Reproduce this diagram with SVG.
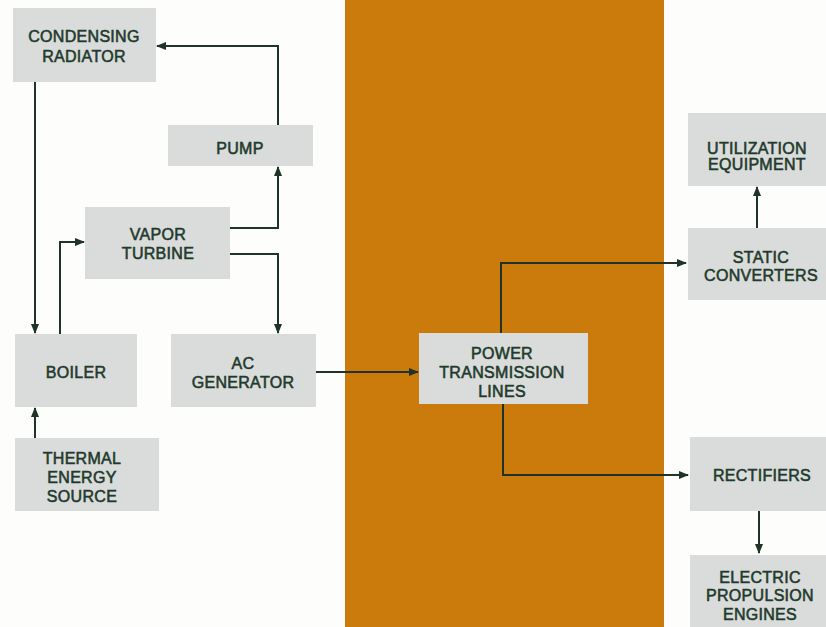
<svg xmlns="http://www.w3.org/2000/svg" width="826" height="627" viewBox="0 0 826 627">
<defs>
<marker id="ah" viewBox="0 0 10 10" refX="9" refY="5" markerWidth="5" markerHeight="5" orient="auto" markerUnits="strokeWidth">
<path d="M0,1 L10,5 L0,9 Z" fill="#1f3328"/>
</marker>
<style>
.box{fill:#d9dcda}
.t{font-family:"Liberation Sans",Arial,sans-serif;font-size:16px;fill:#1f3a2c;stroke:#1f3a2c;stroke-width:0.55;text-anchor:middle;letter-spacing:0.3px}
.c{fill:none;stroke:#1f3328;stroke-width:2;marker-end:url(#ah)}
</style>
</defs>
<rect width="826" height="627" fill="#fdfdfc"/>
<rect x="345" y="0" width="319" height="627" fill="#cb7b0c"/>
<g id="connectors">
<path class="c" d="M278,125 V46 H157"/>
<path class="c" d="M35,82 V333"/>
<path class="c" d="M60,334 V242 H84"/>
<path class="c" d="M230,228 H278 V167"/>
<path class="c" d="M230,254 H278 V333"/>
<path class="c" d="M35,438 V408"/>
<path class="c" d="M316,372 H418"/>
<path class="c" d="M501,333 V263 H686"/>
<path class="c" d="M503,404 V475 H688"/>
<path class="c" d="M757,228 V187"/>
<path class="c" d="M759,511 V553"/>
</g>
<g id="condensing-radiator"><rect class="box" x="13" y="8" width="143" height="74"/><text class="t" x="84" y="42">CONDENSING</text><text class="t" x="84" y="62">RADIATOR</text></g>
<g id="pump"><rect class="box" x="168" y="125" width="145" height="41"/><text class="t" x="240" y="154">PUMP</text></g>
<g id="vapor-turbine"><rect class="box" x="85" y="207" width="145" height="72"/><text class="t" x="158" y="240">VAPOR</text><text class="t" x="158" y="259">TURBINE</text></g>
<g id="boiler"><rect class="box" x="15" y="334" width="122" height="73"/><text class="t" x="76" y="378">BOILER</text></g>
<g id="ac-generator"><rect class="box" x="171" y="334" width="145" height="73"/><text class="t" x="243" y="369">AC</text><text class="t" x="243" y="388">GENERATOR</text></g>
<g id="thermal-energy-source"><rect class="box" x="15" y="438" width="144" height="73"/><text class="t" x="82" y="464">THERMAL</text><text class="t" x="82" y="483">ENERGY</text><text class="t" x="82" y="502">SOURCE</text></g>
<g id="power-transmission-lines"><rect class="box" x="419" y="333" width="169" height="71" fill="#dfe3e1"/><text class="t" x="502" y="359">POWER</text><text class="t" x="502" y="378">TRANSMISSION</text><text class="t" x="502" y="397">LINES</text></g>
<g id="utilization-equipment"><rect class="box" x="688" y="113" width="138" height="73"/><text class="t" x="757" y="154">UTILIZATION</text><text class="t" x="757" y="170">EQUIPMENT</text></g>
<g id="static-converters"><rect class="box" x="688" y="228" width="138" height="72"/><text class="t" x="761" y="263">STATIC</text><text class="t" x="761" y="281">CONVERTERS</text></g>
<g id="rectifiers"><rect class="box" x="690" y="437" width="136" height="74"/><text class="t" x="762" y="481">RECTIFIERS</text></g>
<g id="electric-propulsion-engines"><rect class="box" x="690" y="555" width="136" height="72"/><text class="t" x="760" y="583">ELECTRIC</text><text class="t" x="760" y="601">PROPULSION</text><text class="t" x="760" y="620">ENGINES</text></g>
</svg>
